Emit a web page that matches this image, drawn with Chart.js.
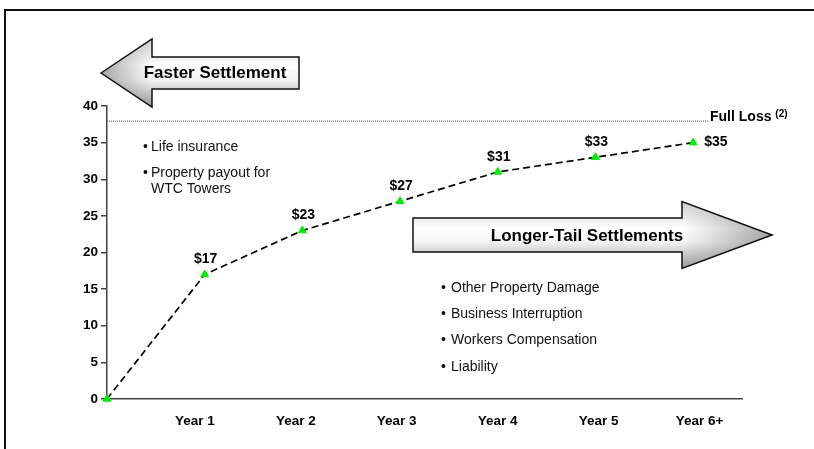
<!DOCTYPE html>
<html>
<head>
<meta charset="utf-8">
<script src="https://cdn.jsdelivr.net/npm/chart.js@4.4.1/dist/chart.umd.min.js"></script>
<style>
  html, body { margin: 0; padding: 0; background: #fff; }
  #wrap { width: 814px; height: 449px; position: relative; }
</style>
</head>
<body>
<div id="wrap"><canvas id="settlementChart" width="814" height="449"></canvas></div>
<script>
// Cumulative payouts ($bn) by year after the event
const yearLabels = ['', 'Year 1', 'Year 2', 'Year 3', 'Year 4', 'Year 5', 'Year 6+'];
const cumulativePaid = [0, 17, 23, 27, 31, 33, 35];
const fullLoss = 38;
const fastItems = [['Life insurance'], ['Property payout for', 'WTC Towers']];
const longTailItems = ['Other Property Damage', 'Business Interruption', 'Workers Compensation', 'Liability'];

const FONT = '"Liberation Sans", Arial, sans-serif';

// block arrow with a grey sheen; dir = -1 points left, 1 points right
function drawArrow(ctx, a) {
  const { dir, tipX, midY, headX, headHalf, bodyEnd, bodyHalf } = a;
  ctx.save();
  ctx.beginPath();
  ctx.moveTo(tipX, midY);
  ctx.lineTo(headX, midY - headHalf);
  ctx.lineTo(headX, midY - bodyHalf);
  ctx.lineTo(bodyEnd, midY - bodyHalf);
  ctx.lineTo(bodyEnd, midY + bodyHalf);
  ctx.lineTo(headX, midY + bodyHalf);
  ctx.lineTo(headX, midY + headHalf);
  ctx.closePath();
  const vg = ctx.createLinearGradient(0, midY - headHalf, 0, midY + headHalf);
  vg.addColorStop(0, '#d0d0d0');
  vg.addColorStop(0.4, '#ffffff');
  vg.addColorStop(0.6, '#f4f4f4');
  vg.addColorStop(1, '#9a9a9a');
  ctx.fillStyle = vg;
  ctx.fill();

  // darker toward the tip of the head
  ctx.save();
  ctx.clip();
  const hg = ctx.createLinearGradient(headX, 0, tipX, 0);
  hg.addColorStop(0, 'rgba(120,120,120,0)');
  hg.addColorStop(1, 'rgba(90,90,90,0.55)');
  ctx.fillStyle = hg;
  ctx.fillRect(Math.min(headX, tipX), midY - headHalf, Math.abs(tipX - headX), headHalf * 2);
  ctx.restore();

  ctx.lineWidth = 1.5;
  ctx.strokeStyle = '#111';
  ctx.stroke();
  ctx.restore();
}

const overlayPlugin = {
  id: 'overlay',
  beforeDraw(chart) {
    const ctx = chart.ctx;
    // outer frame (open at right and bottom)
    ctx.save();
    ctx.strokeStyle = '#111';
    ctx.lineWidth = 2;
    ctx.beginPath();
    ctx.moveTo(814, 10);
    ctx.lineTo(5, 10);
    ctx.lineTo(5, 449);
    ctx.stroke();
    ctx.restore();
  },
  beforeDatasetsDraw(chart) {
    const ctx = chart.ctx;
    const y = chart.scales.y.getPixelForValue(fullLoss);
    const left = chart.chartArea.left;
    ctx.save();
    ctx.strokeStyle = '#555';
    ctx.lineWidth = 1;
    ctx.setLineDash([1, 1]);
    ctx.beginPath();
    ctx.moveTo(left, y + 0.5);
    ctx.lineTo(left + 601, y + 0.5);
    ctx.stroke();
    ctx.setLineDash([]);
    ctx.fillStyle = '#000';
    ctx.textBaseline = 'alphabetic';
    ctx.textAlign = 'left';
    ctx.font = 'bold 14px ' + FONT;
    ctx.fillText('Full Loss', left + 603, y + 0.5);
    const w = ctx.measureText('Full Loss ').width;
    ctx.font = 'bold 10px ' + FONT;
    ctx.fillText('(2)', left + 603 + w, y - 4);
    ctx.restore();
  },
  afterDatasetsDraw(chart) {
    const ctx = chart.ctx;
    const meta = chart.getDatasetMeta(0);

    // value labels
    ctx.save();
    ctx.fillStyle = '#000';
    ctx.font = 'bold 14px ' + FONT;
    ctx.textBaseline = 'middle';
    const last = cumulativePaid.length - 1;
    cumulativePaid.forEach((v, i) => {
      if (i === 0) return;
      const pt = meta.data[i];
      if (i === last) {
        ctx.textAlign = 'left';
        ctx.fillText('$' + v, pt.x + 11, pt.y);
      } else {
        ctx.textAlign = 'center';
        ctx.fillText('$' + v, pt.x + 1, pt.y - 15);
      }
    });
    ctx.restore();

    // settlement arrows
    drawArrow(ctx, { dir: -1, tipX: 101, midY: 73, headX: 152, headHalf: 34, bodyEnd: 299, bodyHalf: 16 });
    drawArrow(ctx, { dir: 1, tipX: 772, midY: 235, headX: 682, headHalf: 33.5, bodyEnd: 413, bodyHalf: 17 });

    ctx.save();
    ctx.fillStyle = '#000';
    ctx.textAlign = 'center';
    ctx.textBaseline = 'middle';
    ctx.font = 'bold 17px ' + FONT;
    ctx.fillText('Faster Settlement', 215, 73);
    ctx.fillText('Longer-Tail Settlements', 587, 236);

    // bullet lists
    ctx.fillStyle = '#111';
    ctx.textAlign = 'left';
    ctx.font = '14px ' + FONT;
    let ty = 147;
    fastItems.forEach(lines => {
      ctx.fillText('\u2022', 143, ty);
      lines.forEach((line, k) => {
        ctx.fillText(line, 151, ty + k * 16.5);
      });
      ty += 26 + (lines.length - 1) * 16.5;
    });
    longTailItems.forEach((item, k) => {
      const yy = 288 + k * 26.3;
      ctx.fillText('\u2022', 441, yy);
      ctx.fillText(item, 451, yy);
    });
    ctx.restore();
  }
};

const tickFont = { family: FONT, size: 13.5, weight: 'bold' };

new Chart(document.getElementById('settlementChart'), {
  type: 'line',
  data: {
    datasets: [{
      data: cumulativePaid.map((v, i) => ({ x: i, y: v })),
      xAxisID: 'x',
      yAxisID: 'y',
      borderColor: '#000',
      borderWidth: 1.7,
      borderDash: [7, 4],
      tension: 0,
      clip: false,
      pointStyle: 'triangle',
      pointRadius: 4.5,
      pointBackgroundColor: '#00ee00',
      pointBorderColor: '#00ee00',
      pointBorderWidth: 1
    }]
  },
  options: {
    responsive: false,
    animation: false,
    layout: { padding: { left: 0, top: 106, right: 72, bottom: 0 } },
    plugins: { legend: { display: false }, tooltip: { enabled: false } },
    scales: {
      x: { type: 'linear', min: 0, max: 6.5, display: false },
      xYears: {
        type: 'linear',
        position: 'bottom',
        min: 0.13,
        max: 6.42,
        grid: { display: false, drawTicks: false },
        border: { display: true, color: '#444', width: 1.5 },
        ticks: {
          stepSize: 1,
          includeBounds: false,
          padding: 14,
          maxRotation: 0,
          autoSkip: false,
          color: '#000',
          font: tickFont,
          callback: v => yearLabels[v] || ''
        },
        afterFit: s => { s.height = 50; }
      },
      y: {
        min: 0,
        max: 40,
        grid: { drawOnChartArea: false, drawTicks: true, tickLength: 6, color: '#444', lineWidth: 1.5 },
        border: { display: true, color: '#444', width: 1.5 },
        ticks: { stepSize: 5, padding: 3, color: '#000', font: tickFont },
        afterFit: s => { s.width = 107; }
      }
    }
  },
  plugins: [overlayPlugin]
});
</script>
</body>
</html>
